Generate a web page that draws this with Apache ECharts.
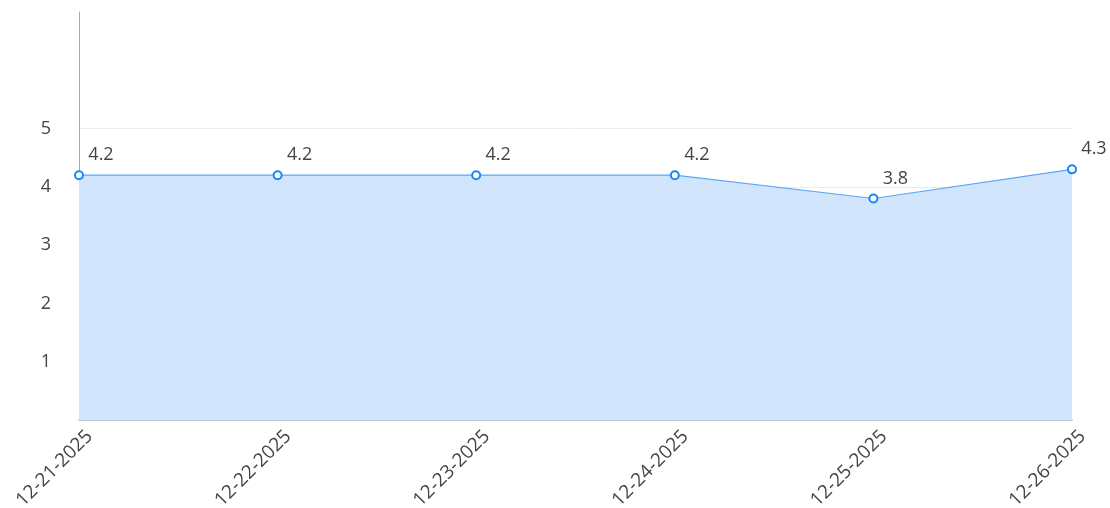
<!DOCTYPE html>
<html>
<head>
<meta charset="utf-8">
<script src="https://cdn.jsdelivr.net/npm/echarts@6/dist/echarts.min.js"></script>
<style>
  html, body { margin: 0; padding: 0; background: #fff; }
  #chart { width: 1110px; height: 508px; }
</style>
</head>
<body>
<div id="chart"></div>
<script>
  // values
  var dates = ['12-21-2025', '12-22-2025', '12-23-2025', '12-24-2025', '12-25-2025', '12-26-2025']
  var values = [4.2, 4.2, 4.2, 4.2, 3.8, 4.3]
  var yShown = [1, 2, 3, 4, 5]

  var chart = echarts.init(document.getElementById('chart'))
  var option = {
    animation: false,
    textStyle: { fontFamily: 'Open Sans' },
    grid: { left: 79, right: 38, top: 12, bottom: 88, containLabel: false, outerBoundsMode: 'none' },
    xAxis: {
      type: 'category',
      data: dates,
      boundaryGap: false,
      axisLine: { lineStyle: { color: '#aab4c4', width: 1.5 } },
      axisTick: { show: false },
      axisLabel: { rotate: 45, color: '#444', fontSize: 19, margin: 24, padding: [0, -15, 0, 0], interval: 0 }
    },
    yAxis: {
      type: 'value',
      min: 0,
      max: 7,
      interval: 1,
      axisLine: { show: true, lineStyle: { color: '#aaa' } },
      axisTick: { show: false },
      axisLabel: {
        color: '#444',
        fontSize: 18,
        margin: 28,
        formatter: function (v) { return yShown.indexOf(v) >= 0 ? String(v) : '' }
      },
      splitLine: {
        lineStyle: {
          // 0..7: only 1..5 visible
          color: ['rgba(0,0,0,0)', '#e8edf3', '#e8edf3', '#e8edf3', '#e8edf3', '#eeeeee', 'rgba(0,0,0,0)', 'rgba(0,0,0,0)']
        }
      }
    },
    series: [{
      type: 'line',
      data: values,
      symbol: 'emptyCircle',
      symbolSize: 8,
      lineStyle: { color: '#5ea6f4', width: 1.2 },
      itemStyle: { color: '#1a86f5', borderWidth: 2 },
      areaStyle: { color: '#d1e6fc', opacity: 1 },
      label: {
        show: true,
        position: 'top',
        offset: [22, -1],
        color: '#444',
        fontSize: 18
      }
    }]
  }
  chart.setOption(option)
</script>
</body>
</html>
